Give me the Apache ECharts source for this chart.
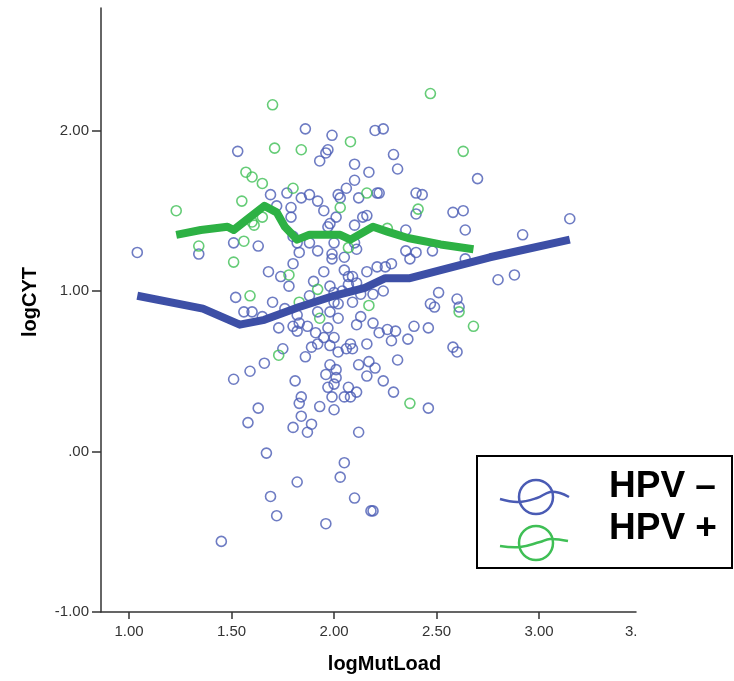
<!DOCTYPE html>
<html>
<head>
<meta charset="utf-8">
<script src="https://cdn.jsdelivr.net/npm/echarts@6/dist/echarts.min.js"></script>
<style>
html,body{margin:0;padding:0;background:#fff;}
#chart{width:734px;height:681px;}
</style>
</head>
<body>
<div id="chart"></div>
<script>
// ---- data (logMutLoad, logCYT) ----
const hpvNeg = [
[1.86,2.01],[2.20,2.00],[2.24,2.01],[1.99,1.97],[1.53,1.87],[1.97,1.88],[1.96,1.86],[1.93,1.81],
[2.29,1.85],[2.31,1.76],[2.10,1.79],[2.17,1.74],[2.10,1.69],[2.70,1.70],[2.06,1.64],[2.02,1.60],
[2.03,1.58],[2.12,1.58],[2.21,1.61],[2.22,1.61],[2.40,1.61],[2.43,1.60],[1.69,1.60],[1.77,1.61],
[1.84,1.58],[1.88,1.60],[1.92,1.56],[1.72,1.53],[1.79,1.52],[1.79,1.46],[1.95,1.50],[2.01,1.46],
[1.98,1.42],[2.10,1.41],[2.14,1.46],[2.16,1.47],[2.35,1.38],[2.40,1.48],[2.58,1.49],[2.63,1.50],
[2.64,1.38],[1.97,1.40],[3.15,1.45],[1.80,1.34],[1.82,1.30],[1.51,1.30],[1.63,1.28],[1.88,1.30],
[2.00,1.30],[2.10,1.30],[2.11,1.26],[1.83,1.24],[1.92,1.25],[1.99,1.23],[1.99,1.20],[2.05,1.21],
[2.35,1.25],[2.40,1.24],[2.37,1.20],[2.48,1.25],[2.64,1.20],[1.80,1.17],[2.21,1.15],[2.25,1.15],
[2.28,1.17],[2.16,1.12],[2.05,1.13],[1.04,1.24],[1.34,1.23],[2.92,1.35],[2.80,1.07],[2.88,1.10],
[1.68,1.12],[1.74,1.09],[1.78,1.03],[1.90,1.06],[1.95,1.12],[2.07,1.09],[2.09,1.09],[1.98,1.03],
[2.00,0.99],[2.04,1.00],[2.07,1.04],[2.11,1.05],[2.13,0.98],[2.19,0.98],[2.24,1.00],[1.52,0.96],
[1.70,0.93],[1.76,0.89],[1.88,0.97],[2.00,0.93],[2.02,0.92],[2.09,0.93],[1.56,0.87],[1.60,0.87],
[1.65,0.84],[1.82,0.85],[1.92,0.87],[1.98,0.87],[2.02,0.83],[2.13,0.84],[2.11,0.79],[2.19,0.80],
[1.73,0.77],[1.80,0.78],[1.82,0.75],[1.83,0.80],[1.87,0.78],[1.91,0.74],[1.97,0.77],[2.00,0.71],
[1.95,0.71],[1.92,0.67],[1.89,0.65],[1.98,0.66],[2.02,0.62],[2.06,0.64],[2.09,0.64],[2.08,0.67],
[2.16,0.67],[2.22,0.74],[2.26,0.76],[2.30,0.75],[2.28,0.69],[2.36,0.70],[2.39,0.78],[2.46,0.77],
[2.51,0.99],[2.47,0.92],[2.49,0.90],[2.60,0.95],[2.61,0.90],[2.58,0.65],[2.60,0.62],[1.75,0.64],
[1.66,0.55],[1.59,0.50],[1.51,0.45],[1.86,0.59],[1.98,0.54],[2.01,0.51],[1.96,0.48],[2.01,0.46],
[2.00,0.42],[1.97,0.40],[2.12,0.54],[2.17,0.56],[2.20,0.52],[2.16,0.47],[2.24,0.44],[2.31,0.57],
[1.81,0.44],[2.07,0.40],[2.11,0.37],[2.05,0.34],[2.08,0.34],[1.99,0.34],[2.29,0.37],[2.46,0.27],
[1.84,0.34],[1.83,0.30],[1.93,0.28],[2.00,0.26],[1.63,0.27],[1.58,0.18],[1.84,0.22],[1.80,0.15],
[1.89,0.17],[1.87,0.12],[2.12,0.12],[1.67,-0.01],[2.05,-0.07],[1.45,-0.56],[2.03,-0.16],[1.82,-0.19],
[1.69,-0.28],[2.10,-0.29],[2.18,-0.37],[2.19,-0.37],[1.72,-0.40],[1.96,-0.45]
];
const hpvPos = [
[1.70,2.16],[2.47,2.23],[1.71,1.89],[1.84,1.88],[2.08,1.93],[2.63,1.87],[1.57,1.74],[1.60,1.71],
[1.65,1.67],[1.80,1.64],[1.55,1.56],[1.23,1.50],[2.03,1.52],[2.16,1.61],[2.41,1.51],[2.26,1.39],
[2.07,1.27],[1.65,1.46],[1.60,1.43],[1.61,1.41],[1.34,1.28],[1.56,1.31],[1.51,1.18],[1.78,1.10],
[1.59,0.97],[1.92,1.01],[1.83,0.93],[1.93,0.83],[2.17,0.91],[1.73,0.60],[2.37,0.30],[2.61,0.87],
[2.68,0.78]
];
const fitNeg = [
[1.04,0.97],[1.36,0.89],[1.54,0.79],[1.66,0.82],[1.83,0.90],[2.00,0.97],[2.15,1.02],[2.25,1.08],
[2.37,1.08],[2.52,1.13],[2.76,1.21],[3.15,1.32]
];
const fitPos = [
[1.23,1.35],[1.35,1.38],[1.48,1.40],[1.51,1.38],[1.58,1.45],[1.66,1.53],[1.72,1.49],[1.76,1.40],
[1.82,1.32],[1.88,1.35],[2.03,1.35],[2.08,1.32],[2.19,1.40],[2.26,1.37],[2.36,1.33],[2.52,1.29],
[2.68,1.26]
];
const xTicks = [1, 1.5, 2, 2.5, 3];
const yTicks = [-1, 0, 1, 2];
const yTickLabels = ['-1.00', '.00', '1.00', '2.00'];
const legendLabels = ['HPV \u2013', 'HPV +'];

const BLUE_PT = '#4a5bb4', BLUE_LN = '#3d4fa6';
const GREEN_PT = '#3fbf55', GREEN_LN = '#2db144';
const FONT = 'Liberation Sans, Arial, sans-serif';

const chart = echarts.init(document.getElementById('chart'), null, {renderer: 'canvas'});
chart.setOption({
  animation: false,
  backgroundColor: '#fff',
  grid: {left: 101, right: 98, top: 8, bottom: 69, containLabel: false},
  xAxis: {
    type: 'value', min: 0.863, max: 3.473,
    name: 'logMutLoad', nameLocation: 'middle', nameGap: 42,
    nameTextStyle: {fontFamily: FONT, fontWeight: 'bold', fontSize: 20, color: '#000', padding: [0, 0, 0, 32]},
    axisLine: {show: true, onZero: false, lineStyle: {color: '#333', width: 1.5}},
    axisTick: {show: true, customValues: xTicks, length: 7, lineStyle: {color: '#333', width: 1.5}},
    axisLabel: {customValues: xTicks, formatter: v => v.toFixed(2), fontFamily: FONT, fontSize: 15, color: '#333', margin: 12},
    splitLine: {show: false}
  },
  yAxis: {
    type: 'value', min: -1, max: 2.763,
    name: 'logCYT', nameLocation: 'middle', nameGap: 61, nameRotate: 90,
    nameTextStyle: {fontFamily: FONT, fontWeight: 'bold', fontSize: 20, color: '#000', padding: [0, 0, 0, 16]},
    axisLine: {show: true, onZero: false, lineStyle: {color: '#333', width: 1.5}},
    axisTick: {show: true, customValues: yTicks, length: 9, lineStyle: {color: '#333', width: 1.5}},
    axisLabel: {customValues: yTicks, formatter: v => yTickLabels[yTicks.indexOf(Math.round(v))], fontFamily: FONT, fontSize: 15, color: '#333', margin: 12},
    splitLine: {show: false}
  },
  series: [
    {type: 'scatter', name: 'HPV -', data: hpvNeg, symbol: 'circle', symbolSize: 10,
     itemStyle: {color: 'rgba(0,0,0,0)', borderColor: BLUE_PT, borderWidth: 1.6}, z: 2},
    {type: 'scatter', name: 'HPV +', data: hpvPos, symbol: 'circle', symbolSize: 10,
     itemStyle: {color: 'rgba(0,0,0,0)', borderColor: GREEN_PT, borderWidth: 1.6}, z: 2},
    {type: 'line', data: fitNeg, showSymbol: false, symbol: 'none', smooth: false,
     lineStyle: {color: BLUE_LN, width: 8, join: 'round'}, z: 3},
    {type: 'line', data: fitPos, showSymbol: false, symbol: 'none', smooth: false,
     lineStyle: {color: GREEN_LN, width: 8, join: 'round'}, z: 4}
  ],
  graphic: [
    {type: 'text', left: 625, top: 624, style: {text: '3.', font: '15px ' + FONT, fill: '#333'}},
    {type: 'rect', shape: {x: 477, y: 456, width: 255, height: 112}, style: {fill: '#fff', stroke: '#000', lineWidth: 2}, z: 100},
    {type: 'circle', shape: {cx: 536, cy: 497, r: 17}, style: {fill: 'none', stroke: BLUE_PT, lineWidth: 2.5}, z: 101},
    {type: 'polyline', shape: {points: [[500,499],[518,502],[537,498],[550,492],[560,493],[569,497]], smooth: 0.4}, style: {fill: 'none', stroke: BLUE_PT, lineWidth: 2.5}, z: 101},
    {type: 'circle', shape: {cx: 536, cy: 543, r: 17}, style: {fill: 'none', stroke: GREEN_PT, lineWidth: 2.5}, z: 101},
    {type: 'polyline', shape: {points: [[500,546],[520,547],[540,542],[550,539],[568,541]], smooth: 0.4}, style: {fill: 'none', stroke: GREEN_PT, lineWidth: 2.5}, z: 101},
    {type: 'text', left: 609, top: 468, style: {text: legendLabels[0], font: 'bold 37px ' + FONT, fill: '#000'}, z: 101},
    {type: 'text', left: 609, top: 510, style: {text: legendLabels[1], font: 'bold 37px ' + FONT, fill: '#000'}, z: 101}
  ]
});
</script>
</body>
</html>
